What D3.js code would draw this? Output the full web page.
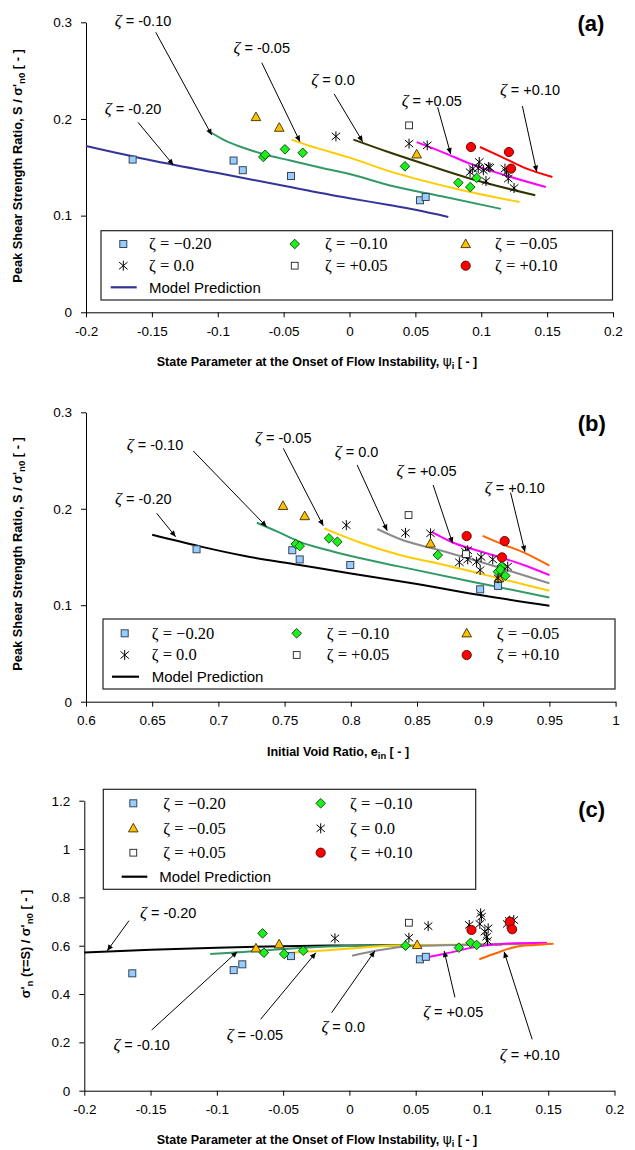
<!DOCTYPE html>
<html><head><meta charset="utf-8">
<script src="https://cdn.jsdelivr.net/npm/d3@7"></script>
<style>
body{margin:0;background:#fff}
svg{display:block;font-family:"Liberation Sans",Arial,sans-serif}
</style>
</head><body>
<svg id="chart" width="635" height="1150"></svg>
<script>
// ---------------- DATA ----------------
const zetaNames = ["\u22120.20","\u22120.10","\u22120.05","0.0","+0.05","+0.10"];
const annoNames = ["-0.20","-0.10","-0.05","0.0","+0.05","+0.10"];

// axis ticks
const psiTicks = [-0.2,-0.15,-0.1,-0.05,0,0.05,0.1,0.15,0.2];
const psiTickLabels = ["-0.2","-0.15","-0.1","-0.05","0","0.05","0.1","0.15","0.2"];
const voidTicks = [0.6,0.65,0.7,0.75,0.8,0.85,0.9,0.95,1];
const voidTickLabels = ["0.6","0.65","0.7","0.75","0.8","0.85","0.9","0.95","1"];
const ratioTicks = [0,0.1,0.2,0.3];
const ratioTickLabels = ["0","0.1","0.2","0.3"];
const sigmaTicks = [0,0.2,0.4,0.6,0.8,1,1.2];
const sigmaTickLabels = ["0","0.2","0.4","0.6","0.8","1","1.2"];

// ----- panel (a): S/sigma'n0 vs psi_i -----
const aModelNeg20 = [[-0.2,0.172],[-0.15,0.157],[-0.1,0.144],[-0.05,0.131],[0,0.118],[0.03,0.111],[0.05,0.106],[0.075,0.0986]];
const aModelNeg10 = [[-0.105,0.186],[-0.095,0.178],[-0.08,0.170],[-0.065,0.1635],[-0.045,0.157],[-0.02,0.149],[0,0.143],[0.03,0.1314],[0.07,0.120],[0.115,0.107]];
const aModelNeg05 = [[-0.044,0.1786],[-0.03,0.172],[-0.02,0.168],[0,0.160],[0.03,0.146],[0.08,0.128],[0.129,0.114]];
const aModelZero  = [[0.003,0.1786],[0.03,0.1655],[0.06,0.152],[0.09,0.139],[0.141,0.121]];
const aModelPos05 = [[0.051,0.176],[0.07,0.166],[0.0915,0.1538],[0.12,0.141],[0.149,0.1296]];
const aModelPos10 = [[0.099,0.171],[0.115,0.161],[0.132,0.150],[0.154,0.140]];

const aSqBlue   = [[-0.1646,0.158],[-0.088,0.157],[-0.081,0.147],[-0.0444,0.141],[0.0535,0.1159],[0.0578,0.1193]];
const aDiamond  = [[-0.0654,0.1607],[-0.064,0.163],[-0.049,0.1686],[-0.0355,0.165],[0.0421,0.151],[0.0826,0.134],[0.0917,0.1296],[0.0965,0.139]];
const aTriangle = [[-0.071,0.202],[-0.0533,0.191],[0.051,0.1634]];
const aAsterisk = [[-0.0103,0.182],[0.0452,0.1745],[0.059,0.1727],[0.0985,0.1555],[0.0915,0.145],[0.0935,0.1486],[0.1016,0.1469],[0.1054,0.1503],[0.1036,0.1358],[0.1066,0.1497],[0.118,0.1486],[0.1205,0.1383],[0.1249,0.1286],[0.0977,0.149],[0.1192,0.145]];
const aOpenSq   = [[0.0452,0.1934]];
const aCircle   = [[0.0922,0.171],[0.121,0.1658],[0.1226,0.1486]];

// annotation: [textX, textY, arrowStartX, arrowStartY, arrowEndX, arrowEndY] in data units
const aAnnoNeg20 = [-0.1643,0.2103,-0.1605,0.1965,-0.1337,0.1524];
const aAnnoNeg10 = [-0.1567,0.3016,-0.1471,0.2897,-0.1046,0.1834];
const aAnnoNeg05 = [-0.0666,0.2737,-0.0666,0.2582,-0.0376,0.1765];
const aAnnoZero  = [-0.0125,0.2403,-0.0116,0.2258,0.0100,0.1765];
const aAnnoPos05 = [0.0624,0.2189,0.0669,0.2121,0.0768,0.1638];
const aAnnoPos10 = [0.1370,0.2300,0.1312,0.2134,0.1421,0.1454];

// ----- panel (b): S/sigma'n0 vs e_in -----
const bModelNeg20 = [[0.65,0.173],[0.686,0.161],[0.72,0.151],[0.76,0.142],[0.80,0.133],[0.85,0.122],[0.90,0.110],[0.95,0.0995]];
const bModelNeg10 = [[0.729,0.1855],[0.745,0.176],[0.761,0.166],[0.78,0.158],[0.80,0.151],[0.837,0.140],[0.90,0.122],[0.95,0.108]];
const bModelNeg05 = [[0.78,0.1797],[0.79,0.174],[0.807,0.165],[0.837,0.152],[0.87,0.142],[0.90,0.132],[0.95,0.115]];
const bModelZero  = [[0.82,0.179],[0.837,0.1686],[0.87,0.156],[0.90,0.144],[0.95,0.1227]];
const bModelPos05 = [[0.861,0.176],[0.877,0.165],[0.90,0.155],[0.93,0.142],[0.95,0.1313]];
const bModelPos10 = [[0.8996,0.172],[0.915,0.163],[0.93,0.155],[0.95,0.141]];

const bSqBlue   = [[0.6835,0.158],[0.7558,0.157],[0.7614,0.1475],[0.7996,0.1417],[0.8977,0.1165],[0.9112,0.120]];
const bDiamond  = [[0.7584,0.1634],[0.7614,0.1613],[0.7835,0.1693],[0.7898,0.1658],[0.8657,0.152],[0.914,0.1406],[0.9112,0.1347],[0.9167,0.1306],[0.913,0.137]];
const bTriangle = [[0.7488,0.203],[0.7652,0.1924],[0.8602,0.164],[0.912,0.128]];
const bAsterisk = [[0.7966,0.183],[0.8413,0.175],[0.8602,0.1745],[0.882,0.1445],[0.8866,0.1554],[0.8883,0.1475],[0.8883,0.157],[0.895,0.145],[0.8984,0.150],[0.8977,0.1365],[0.9072,0.1475],[0.9185,0.140],[0.9112,0.128]];
const bOpenSq   = [[0.8436,0.1935],[0.887,0.153]];
const bCircle   = [[0.8875,0.1717],[0.9162,0.1665],[0.9142,0.1496]];

const bAnnoNeg20 = [0.6433,0.2101,0.6534,0.1953,0.6677,0.1710];
const bAnnoNeg10 = [0.6521,0.2661,0.6810,0.2599,0.7364,0.1814];
const bAnnoNeg05 = [0.7490,0.2741,0.7490,0.2627,0.7792,0.1824];
const bAnnoZero  = [0.8044,0.2592,0.8048,0.2454,0.8275,0.1773];
const bAnnoPos05 = [0.8572,0.2395,0.8622,0.2246,0.8769,0.1642];
const bAnnoPos10 = [0.9239,0.2218,0.9207,0.2167,0.9315,0.1555];

// ----- panel (c): sigma'n(tau=S)/sigma'n0 vs psi_i -----
const cModelNeg20 = [[-0.2,0.572],[-0.15,0.583],[-0.1,0.592],[-0.05,0.598],[0,0.601],[0.075,0.603]];
const cModelNeg10 = [[-0.105,0.566],[-0.08,0.574],[-0.05,0.586],[-0.02,0.596],[0.02,0.601],[0.115,0.604]];
const cModelNeg05 = [[-0.044,0.571],[-0.02,0.580],[0,0.588],[0.023,0.598],[0.06,0.603],[0.129,0.606]];
const cModelZero  = [[0.002,0.558],[0.023,0.582],[0.045,0.598],[0.10,0.605],[0.141,0.608]];
const cModelPos05 = [[0.051,0.5435],[0.073,0.568],[0.098,0.598],[0.12,0.609],[0.149,0.612]];
const cModelPos10 = [[0.098,0.544],[0.11,0.568],[0.126,0.596],[0.14,0.603],[0.154,0.608]];

const cSqBlue   = [[-0.1638,0.4857],[-0.0873,0.499],[-0.0808,0.523],[-0.0441,0.557],[0.0532,0.5435],[0.0577,0.554]];
const cDiamond  = [[-0.0655,0.651],[-0.0645,0.571],[-0.0492,0.5656],[-0.0348,0.579],[0.0424,0.600],[0.0826,0.592],[0.0914,0.612],[0.096,0.603]];
const cTriangle = [[-0.0705,0.589],[-0.053,0.6057],[0.0511,0.603]];
const cAsterisk = [[-0.0109,0.6305],[0.0594,0.681],[0.0449,0.633],[0.0904,0.686],[0.099,0.734],[0.0997,0.72],[0.0984,0.69],[0.1022,0.658],[0.1047,0.672],[0.1035,0.637],[0.1042,0.62],[0.1205,0.703],[0.124,0.706],[0.119,0.69]];
const cOpenSq   = [[0.0449,0.695]];
const cCircle   = [[0.0921,0.665],[0.121,0.699],[0.1228,0.668]];

const cAnnoNeg20 = [-0.1367,0.7381,-0.1663,0.7034,-0.1827,0.5792];
const cAnnoNeg10 = [-0.1567,0.1891,-0.1492,0.2511,-0.0846,0.5751];
const cAnnoNeg05 = [-0.0713,0.2305,-0.0670,0.2954,-0.0253,0.5710];
const cAnnoZero  = [-0.0047,0.2648,-0.0134,0.3227,0.0192,0.5780];
const cAnnoPos05 = [0.0783,0.3269,0.0796,0.3864,0.0715,0.5780];
const cAnnoPos10 = [0.1361,0.1506,0.1379,0.2127,0.1167,0.5751];

// ---------------- STYLE ----------------
const colBlueLine="#333399", colGreen="#339966", colYellow="#ffcc00", colOlive="#333300",
      colMagenta="#ff00ff", colRed="#ff0000", colGray="#8c8c8c", colOrange="#ff6600";
const SANS = "Liberation Sans, Arial, sans-serif";
const SERIF = "Liberation Serif, Times New Roman, serif";

const svg = d3.select("#chart");
const defs = svg.append("defs");
defs.append("marker").attr("id","arr").attr("viewBox","0 0 10 10").attr("refX",10).attr("refY",5)
  .attr("markerWidth",7).attr("markerHeight",6).attr("markerUnits","userSpaceOnUse").attr("orient","auto")
  .append("path").attr("d","M0,0.5L10,5L0,9.5Z").attr("fill","#000");

const shapes = {
  sq: (s)=>s.append("rect").attr("x",-3.5).attr("y",-3.5).attr("width",7).attr("height",7).attr("fill","#99ccff").attr("stroke","#34465a").attr("stroke-width",1),
  diamond: (s)=>s.append("path").attr("d","M0,-4.8L4.8,0L0,4.8L-4.8,0Z").attr("fill","#1cf01c").attr("stroke","#0b3d0b").attr("stroke-width",0.9),
  tri: (s)=>s.append("path").attr("d","M0,-5L4.8,3.6L-4.8,3.6Z").attr("fill","#ffc000").attr("stroke","#3a3000").attr("stroke-width",0.9),
  ast: (s)=>s.append("path").attr("d","M0,-5V5M-4.2,-3.6L4.2,3.6M-4.2,3.6L4.2,-3.6").attr("fill","none").attr("stroke","#000").attr("stroke-width",1),
  open: (s)=>s.append("rect").attr("x",-3.4).attr("y",-3.4).attr("width",6.8).attr("height",6.8).attr("fill","#fff").attr("stroke","#222").attr("stroke-width",0.9),
  circle: (s)=>s.append("circle").attr("r",4.6).attr("fill","#ff0000").attr("stroke","#5a0000").attr("stroke-width",0.9)
};

function subText(t, parts){
  let shift = 0;
  parts.forEach(p=>{
    const ts = t.append("tspan");
    const target = p[1]==="sub" ? 3 : 0;
    if(target!==shift){ ts.attr("dy", target-shift); shift = target; }
    if(p[1]==="sub") ts.attr("font-size","0.75em");
    if(p[1]==="greek") ts.attr("font-weight","normal").attr("font-family","DejaVu Sans").attr("font-size","1.1em");
    ts.text(p[0]);
  });
}

function drawPanel(cfg){
  const g = svg.append("g");
  const x = d3.scaleLinear().domain(cfg.xDomain).range([cfg.left,cfg.right]);
  const y = d3.scaleLinear().domain(cfg.yDomain).range([cfg.bottom,cfg.top]);

  const ax = g.append("g").attr("transform",`translate(0,${cfg.bottom})`)
    .call(d3.axisBottom(x).tickValues(cfg.xTicks).tickFormat((d,i)=>cfg.xTickLabels[i]).tickSize(5).tickSizeOuter(0).tickPadding(9));
  const ay = g.append("g").attr("transform",`translate(${cfg.left},0)`)
    .call(d3.axisLeft(y).tickValues(cfg.yTicks).tickFormat((d,i)=>cfg.yTickLabels[i]).tickSize(5).tickSizeOuter(0).tickPadding(9));
  [ax,ay].forEach(a=>{
    a.attr("font-family",SANS).attr("font-size",13.5);
    a.selectAll("path,line").attr("stroke","#000").attr("stroke-width",1);
    a.selectAll("text").attr("fill","#000");
  });

  // model lines
  const line = d3.line().x(d=>x(d[0])).y(d=>y(d[1])).curve(d3.curveMonotoneX);
  cfg.lines.forEach(l=>{
    g.append("path").datum(l.data).attr("d",line).attr("fill","none").attr("stroke",l.color).attr("stroke-width",2);
  });

  // markers
  cfg.points.forEach(p=>{
    p.data.forEach(d=>{
      const s = g.append("g").attr("transform",`translate(${x(d[0])},${y(d[1])})`);
      shapes[p.shape](s);
    });
  });

  // annotations
  cfg.annos.forEach(a=>{
    const v = a.v;
    g.append("line").attr("x1",x(v[2])).attr("y1",y(v[3])).attr("x2",x(v[4])).attr("y2",y(v[5]))
      .attr("stroke","#000").attr("stroke-width",1).attr("marker-end","url(#arr)");
    const t = g.append("text").attr("x",x(v[0])).attr("y",y(v[1])).attr("dy","0.36em").attr("text-anchor","middle")
      .attr("font-family",SANS).attr("font-size",14.5);
    t.append("tspan").attr("font-family",SERIF).attr("font-style","italic").attr("font-size",17).text("\u03b6");
    t.append("tspan").text(" = " + a.name);
  });

  // legend
  const L = cfg.legend;
  g.append("rect").attr("x",L.x0).attr("y",L.y0).attr("width",L.x1-L.x0).attr("height",L.y1-L.y0)
    .attr("fill","#fff").attr("stroke","#222").attr("stroke-width",1.2);
  L.items.forEach(it=>{
    const s = g.append("g").attr("transform",`translate(${it.mx},${it.y})`);
    shapes[it.shape](s);
    g.append("text").attr("x",it.tx).attr("y",it.y).attr("dy","0.33em")
      .attr("font-family",SERIF).attr("font-size",16.5).text("\u03b6 = " + it.name);
  });
  g.append("line").attr("x1",L.model.x1).attr("x2",L.model.x2).attr("y1",L.model.y).attr("y2",L.model.y)
    .attr("stroke",L.model.color).attr("stroke-width",2.2);
  g.append("text").attr("x",L.model.tx).attr("y",L.model.y).attr("dy","0.35em").attr("font-family",SANS).attr("font-size",15).text("Model Prediction");

  // axis titles
  const xt = g.append("text").attr("x",cfg.xTitle.x).attr("y",cfg.xTitle.y).attr("text-anchor","middle")
    .attr("font-family",SANS).attr("font-weight","bold").attr("font-size",12.5);
  subText(xt, cfg.xTitle.parts);
  const yt = g.append("text").attr("transform",`translate(${cfg.yTitle.x},${cfg.yTitle.y}) rotate(-90)`).attr("text-anchor","middle")
    .attr("font-family",SANS).attr("font-weight","bold").attr("font-size",12.8);
  subText(yt, cfg.yTitle.parts);

  g.append("text").attr("x",cfg.tag.x).attr("y",cfg.tag.y).attr("text-anchor","middle").attr("dy","0.35em")
    .attr("font-family",SANS).attr("font-weight","bold").attr("font-size",22).text(cfg.tag.t);
}

const psiTitle = [["State Parameter at the Onset of Flow Instability, ","n"],["\u03c8","greek"],["i","sub"],[" [ - ]","n"]];
const ratioTitle = [["Peak Shear Strength Ratio, S / \u03c3'","n"],["n0","sub"],[" [ - ]","n"]];

// panel a
drawPanel({
  xDomain:[-0.2,0.2], yDomain:[0,0.3], left:86, right:613, top:22.3, bottom:312.3,
  xTicks:psiTicks, xTickLabels:psiTickLabels, yTicks:ratioTicks, yTickLabels:ratioTickLabels,
  lines:[{data:aModelNeg20,color:colBlueLine},{data:aModelNeg10,color:colGreen},{data:aModelNeg05,color:colYellow},
         {data:aModelZero,color:colOlive},{data:aModelPos05,color:colMagenta},{data:aModelPos10,color:colRed}],
  points:[{data:aSqBlue,shape:"sq"},{data:aDiamond,shape:"diamond"},{data:aTriangle,shape:"tri"},
          {data:aAsterisk,shape:"ast"},{data:aOpenSq,shape:"open"},{data:aCircle,shape:"circle"}],
  annos:[{v:aAnnoNeg20,name:annoNames[0]},{v:aAnnoNeg10,name:annoNames[1]},{v:aAnnoNeg05,name:annoNames[2]},
         {v:aAnnoZero,name:annoNames[3]},{v:aAnnoPos05,name:annoNames[4]},{v:aAnnoPos10,name:annoNames[5]}],
  legend:{x0:101,y0:230.7,x1:612.5,y1:300,
    items:[{shape:"sq",name:zetaNames[0],mx:123.3,tx:149,y:244},{shape:"diamond",name:zetaNames[1],mx:294.7,tx:325,y:244},{shape:"tri",name:zetaNames[2],mx:465.7,tx:495,y:244},
           {shape:"ast",name:zetaNames[3],mx:123.3,tx:149,y:265.7},{shape:"open",name:zetaNames[4],mx:294.7,tx:325,y:265.7},{shape:"circle",name:zetaNames[5],mx:465.7,tx:495,y:265.7}],
    model:{x1:110.7,x2:136.7,y:287.3,tx:149,color:colBlueLine}},
  xTitle:{x:317,y:366,parts:psiTitle},
  yTitle:{x:21.7,y:166,parts:ratioTitle},
  tag:{x:591,y:23.3,t:"(a)"}
});

// panel b
drawPanel({
  xDomain:[0.6,1.0], yDomain:[0,0.3], left:86, right:615.6, top:412.3, bottom:701.7,
  xTicks:voidTicks, xTickLabels:voidTickLabels, yTicks:ratioTicks, yTickLabels:ratioTickLabels,
  lines:[{data:bModelNeg20,color:"#000"},{data:bModelNeg10,color:colGreen},{data:bModelNeg05,color:colYellow},
         {data:bModelZero,color:colGray},{data:bModelPos05,color:colMagenta},{data:bModelPos10,color:colOrange}],
  points:[{data:bSqBlue,shape:"sq"},{data:bTriangle,shape:"tri"},{data:bDiamond,shape:"diamond"},
          {data:bAsterisk,shape:"ast"},{data:bOpenSq,shape:"open"},{data:bCircle,shape:"circle"}],
  annos:[{v:bAnnoNeg20,name:annoNames[0]},{v:bAnnoNeg10,name:annoNames[1]},{v:bAnnoNeg05,name:annoNames[2]},
         {v:bAnnoZero,name:annoNames[3]},{v:bAnnoPos05,name:annoNames[4]},{v:bAnnoPos10,name:annoNames[5]}],
  legend:{x0:103,y0:619,x1:615,y1:689,
    items:[{shape:"sq",name:zetaNames[0],mx:124.7,tx:151.7,y:633.3},{shape:"diamond",name:zetaNames[1],mx:296.7,tx:326.7,y:633.3},{shape:"tri",name:zetaNames[2],mx:466.7,tx:496.7,y:633.3},
           {shape:"ast",name:zetaNames[3],mx:124.7,tx:151.7,y:655},{shape:"open",name:zetaNames[4],mx:296.7,tx:326.7,y:655},{shape:"circle",name:zetaNames[5],mx:466.7,tx:496.7,y:655}],
    model:{x1:112,x2:139,y:676.7,tx:151.7,color:"#000"}},
  xTitle:{x:338,y:756,parts:[["Initial Void Ratio, e","n"],["in","sub"],[" [ - ]","n"]]},
  yTitle:{x:21.7,y:554,parts:ratioTitle},
  tag:{x:591.7,y:423.3,t:"(b)"}
});

// panel c
drawPanel({
  xDomain:[-0.2,0.2], yDomain:[0,1.2], left:84.3, right:614.5, top:800.7, bottom:1090.7,
  xTicks:psiTicks, xTickLabels:psiTickLabels, yTicks:sigmaTicks, yTickLabels:sigmaTickLabels,
  lines:[{data:cModelNeg20,color:"#000"},{data:cModelNeg10,color:colGreen},{data:cModelNeg05,color:colYellow},
         {data:cModelZero,color:colGray},{data:cModelPos05,color:colMagenta},{data:cModelPos10,color:colOrange}],
  points:[{data:cSqBlue,shape:"sq"},{data:cDiamond,shape:"diamond"},{data:cTriangle,shape:"tri"},
          {data:cAsterisk,shape:"ast"},{data:cOpenSq,shape:"open"},{data:cCircle,shape:"circle"}],
  annos:[{v:cAnnoNeg20,name:annoNames[0]},{v:cAnnoNeg10,name:annoNames[1]},{v:cAnnoNeg05,name:annoNames[2]},
         {v:cAnnoZero,name:annoNames[3]},{v:cAnnoPos05,name:annoNames[4]},{v:cAnnoPos10,name:annoNames[5]}],
  legend:{x0:103.3,y0:789.3,x1:475.7,y1:889.3,
    items:[{shape:"sq",name:zetaNames[0],mx:133.3,tx:163.3,y:803.3},{shape:"diamond",name:zetaNames[1],mx:320.7,tx:350,y:803.3},
           {shape:"tri",name:zetaNames[2],mx:133.3,tx:163.3,y:828.3},{shape:"ast",name:zetaNames[3],mx:320.7,tx:350,y:828.3},
           {shape:"open",name:zetaNames[4],mx:133.3,tx:163.3,y:852.7},{shape:"circle",name:zetaNames[5],mx:320.7,tx:350,y:852.7}],
    model:{x1:121.7,x2:147.3,y:876.7,tx:159.3,color:"#000"}},
  xTitle:{x:317,y:1144,parts:psiTitle},
  yTitle:{x:30,y:944,parts:[["\u03c3'","n"],["n","sub"],[" (\u03c4=S) / \u03c3'","n"],["n0","sub"],[" [ - ]","n"]]},
  tag:{x:591.7,y:809.3,t:"(c)"}
});
</script>
</body></html>
